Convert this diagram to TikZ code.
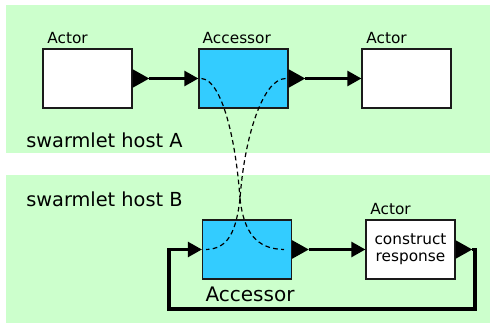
\documentclass[tikz,border=0pt]{standalone}
\usepackage{fontspec}
\setmainfont{DejaVu Sans}
\usetikzlibrary{arrows.meta, shapes.geometric}
\definecolor{hostgreen}{HTML}{CCFFCC}
\definecolor{accblue}{HTML}{33CCFF}
\definecolor{boxline}{HTML}{1A1A1A}

\begin{document}
\begin{tikzpicture}[x=0.75pt, y=-0.75pt,
  actorbox/.style={rectangle, draw=boxline, line width=0.8pt, fill=white,
    minimum width=66.75pt, minimum height=44.25pt, inner sep=0pt,
    align=center, font=\fontsize{11.5}{13}\selectfont},
  accbox/.style={actorbox, fill=accblue},
  port/.style={isosceles triangle, isosceles triangle stretches, fill=black,
    minimum width=14pt, minimum height=12.5pt, inner sep=0pt, outer sep=0pt,
    shape border uses incircle=false, anchor=west},
  conn/.style={draw=black, line width=2.4pt, -{Triangle[length=10.5pt, width=11pt]}},
  link/.style={draw=black, line width=0.9pt, dash pattern=on 3.5pt off 2.5pt},
  boxlab/.style={font=\fontsize{11.5}{13}\selectfont, anchor=south west, inner sep=0pt},
  hostlab/.style={font=\fontsize{14.5}{16}\selectfont, anchor=west, inner sep=0pt},
]
\useasboundingbox (0,0) rectangle (490,324);

% Background
\fill[hostgreen] (6,5) rectangle (490,153);
\fill[hostgreen] (6,175) rectangle (490,323);

% swarmlet host A
\node[actorbox] (src) at (87.5,78.5) {};
\node[accbox] (accA) at (243.5,78.5) {};
\node[actorbox] (dst) at (406.5,78.5) {};
\node[boxlab] at (src.north west) [xshift=3.5pt, yshift=3pt] {Actor};
\node[boxlab] at (accA.north west) [xshift=3pt, yshift=3pt] {Accessor};
\node[boxlab] at (dst.north west) [xshift=3.5pt, yshift=3pt] {Actor};
\node[hostlab] (hostA) at (26,140) {swarmlet host A};

\node[port] (srcout) at (src.east) {};
\node[port] (accAout) at (accA.east) {};
\draw[conn] (srcout.east) -- (accA.west);
\draw[conn] (accAout.east) -- (dst.west);

% swarmlet host B
\node[hostlab] (hostB) at (26,199) {swarmlet host B};
\node[accbox] (accB) at (247,249.5) {};
\node[actorbox] (resp) at (410.5,249.5) {construct\\response};
\node[boxlab] at (resp.north west) [xshift=3.5pt, yshift=3pt] {Actor};
\node[font=\fontsize{15}{17}\selectfont, anchor=north west, inner sep=0pt]
  (accBlab) at (accB.south west) [xshift=2.5pt, yshift=-5pt] {Accessor};

\node[port] (accBout) at (accB.east) {};
\node[port] (respout) at (resp.east) {};
\draw[conn] (accBout.east) -- (resp.west);
\coordinate (loopR) at (475,249.5);
\coordinate (loopBR) at (475,309);
\coordinate (loopBL) at (169,309);
\coordinate (loopL) at (169,249.5);
\draw[conn] (respout.east) -- (loopR) -- (loopBR) -- (loopBL) -- (loopL) -- (accB.west);

% remote link between hosts
\coordinate (meet) at (240,199);
\draw[link] (accA.west) ++(3,0) .. controls (222,80) and (236,140) .. (meet);
\draw[link] (accA.east) ++(-3,0) .. controls (262,79) and (244,140) .. (meet);
\draw[link] (meet) .. controls (236,232) and (228,249) .. (206,249.5);
\draw[link] (meet) .. controls (244,232) and (256,249) .. (284,249.5);
\end{tikzpicture}
\end{document}
